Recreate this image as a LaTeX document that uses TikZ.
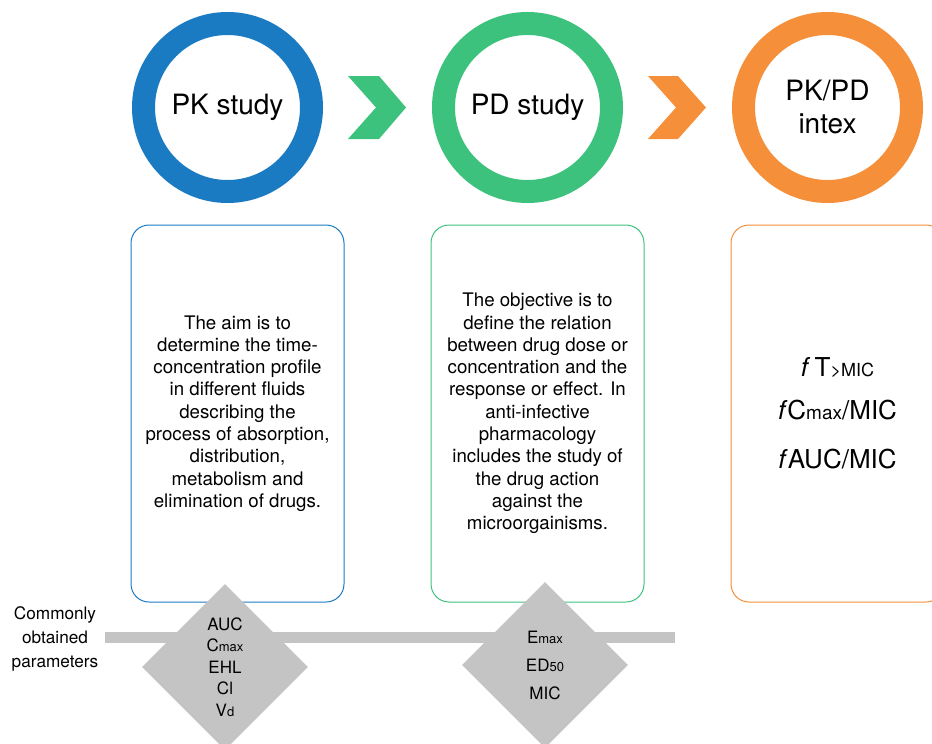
\documentclass[tikz,border=0pt]{standalone}
\usepackage{fontspec}
\setmainfont{TeX Gyre Heros}
\usetikzlibrary{shapes.geometric}
\definecolor{pkblue}{HTML}{1A7BC3}
\definecolor{pdgreen}{HTML}{3DC27E}
\definecolor{idxorange}{HTML}{F58F39}
\definecolor{pargray}{HTML}{C4C4C4}
\newcommand{\smalltxt}[2][13]{{\fontsize{#1}{#1}\selectfont #2}}
\begin{document}
\begin{tikzpicture}[x=1pt, y=-1pt,
    ring/.style={circle, draw=#1, line width=23pt, minimum size=168pt, inner sep=0pt, align=center, font=\fontsize{28}{33}\selectfont},
    infobox/.style={draw=#1, line width=1pt, rounded corners=18pt, minimum width=213pt, minimum height=377pt, inner sep=0pt, align=center, font=\fontsize{18.7}{22.3}\selectfont},
    param/.style={diamond, fill=pargray, aspect=1, minimum size=166pt, inner sep=0pt, align=center, font=\fontsize{17}{21.5}\selectfont}]
    \useasboundingbox (0,0) rectangle (932,744);
    \clip (0,0) rectangle (932,744);

    % the three steps
    \node [ring=pkblue] (pk) at (227.5,107.5) {PK study};
    \node [ring=pdgreen] (pd) at (527.5,107.5) {PD study};
    \node [ring=idxorange] (idx) at (827.5,107.5) {PK/PD\\intex};

    \fill [pdgreen] (348,76)--(379,76)--(406,107.5)--(379,139)--(348,139)--(376,107.5)--cycle;
    \fill [idxorange] (648,76)--(678,76)--(706,107.5)--(678,139)--(648,139)--(676,107.5)--cycle;

    % descriptions
    \node [infobox=pkblue] (pkbox) at (237.5,413.5) {The aim is to\\determine the time-\\concentration profile\\in different fluids\\describing the\\process of absorption,\\distribution,\\metabolism and\\elimination of drugs.};
    \node [infobox=pdgreen] (pdbox) at (537.5,413.5) {The objective is to\\define the relation\\between drug dose or\\concentration and the\\response or effect. In\\anti-infective\\pharmacology\\includes the study of\\the drug action\\against the\\microorgainisms.};
    \node [infobox=idxorange, font=\fontsize{26}{43}\selectfont] (idxbox) at (837.5,413.5) {\textit{f}\,T\smalltxt[18]{>MIC}\\\textit{f}C\smalltxt[19]{max}/MIC\\[6pt]\textit{f}AUC/MIC};

    % parameters
    \coordinate (barL) at (105,637.5);
    \coordinate (barR) at (675,637.5);
    \draw [pargray, line width=11pt] (barL)--(barR);
    \node [align=center, font=\fontsize{17.2}{24}\selectfont] (common) at (55,639) {Commonly\\obtained\\parameters};
    \node [param] (pkpar) at (225,667) {AUC\\C\smalltxt{max}\\EHL\\Cl\\V\smalltxt{d}};
    \node [param, font=\fontsize{17}{28}\selectfont] (pdpar) at (545,665) {E\smalltxt{max}\\ED\smalltxt{50}\\MIC};
\end{tikzpicture}
\end{document}
